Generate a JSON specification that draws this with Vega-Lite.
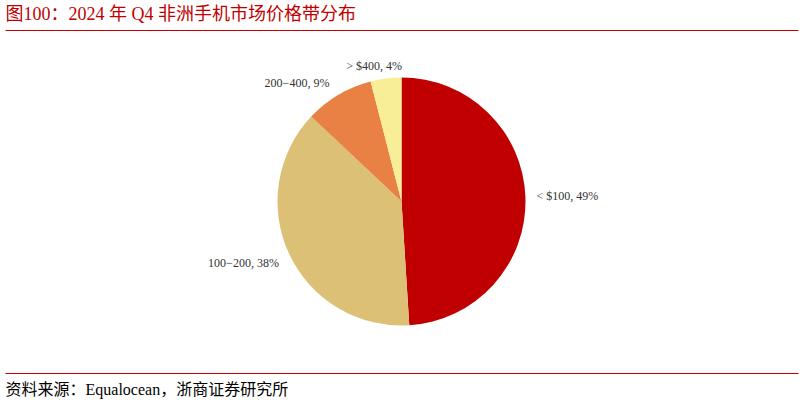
{
  "$schema": "https://vega.github.io/schema/vega-lite/v6.json",
  "description": "2024 Q4 Africa smartphone market share by price band",
  "width": 803,
  "height": 405,
  "autosize": {"type": "fit", "contains": "padding"},
  "padding": {"left": 5, "right": 5, "top": 5, "bottom": 8},
  "background": "white",
  "config": {"view": {"stroke": null}},
  "data": {
    "values": [
      {"band": "< $100", "share": 49},
      {"band": "100−200", "share": 38},
      {"band": "200−400", "share": 9},
      {"band": "> $400", "share": 4}
    ]
  },
  "transform": [
    {"window": [{"op": "row_number", "as": "idx"}]},
    {"stack": "share", "groupby": [], "sort": [{"field": "idx", "order": "ascending"}], "as": ["s0", "s1"]},
    {"calculate": "(datum.s0 + datum.s1) / 2", "as": "mid"},
    {"calculate": "datum.band + ', ' + datum.share + '%'", "as": "label"}
  ],
  "resolve": {"scale": {"x": "independent"}, "axis": {"x": "independent"}},
  "layer": [
    {
      "mark": {"type": "arc", "outerRadius": 124},
      "encoding": {
        "theta": {"field": "s0", "type": "quantitative", "scale": {"domain": [0, 100]}},
        "theta2": {"field": "s1"},
        "color": {
          "field": "band",
          "type": "nominal",
          "scale": {
            "domain": ["< $100", "100−200", "200−400", "> $400"],
            "range": ["#C00000", "#DBC076", "#EA8144", "#F9EE98"]
          },
          "legend": null
        }
      }
    },
    {
      "transform": [{"filter": "datum.band == '< $100'"}],
      "mark": {"type": "text", "radius": 166, "font": "Liberation Serif", "fontSize": 12, "color": "#333333"},
      "encoding": {
        "theta": {"field": "mid", "type": "quantitative"},
        "text": {"field": "label"}
      }
    },
    {
      "transform": [{"filter": "datum.band == '100−200'"}],
      "mark": {"type": "text", "radius": 168, "dx": -6, "dy": -10, "font": "Liberation Serif", "fontSize": 12, "color": "#333333"},
      "encoding": {
        "theta": {"field": "mid", "type": "quantitative"},
        "text": {"field": "label"}
      }
    },
    {
      "transform": [{"filter": "datum.band == '200−400'"}],
      "mark": {"type": "text", "radius": 166, "dx": -20, "dy": 24, "font": "Liberation Serif", "fontSize": 12, "color": "#333333"},
      "encoding": {
        "theta": {"field": "mid", "type": "quantitative"},
        "text": {"field": "label"}
      }
    },
    {
      "transform": [{"filter": "datum.band == '> $400'"}],
      "mark": {"type": "text", "radius": 139, "dx": -10, "dy": 2, "font": "Liberation Serif", "fontSize": 12, "color": "#333333"},
      "encoding": {
        "theta": {"field": "mid", "type": "quantitative"},
        "text": {"field": "label"}
      }
    },
    {
      "mark": {"type": "rule", "opacity": 0},
      "encoding": {
        "x": {
          "datum": 0,
          "type": "quantitative",
          "axis": {
            "orient": "top",
            "title": "图100：2024 年 Q4 非洲手机市场价格带分布",
            "titleColor": "#C00000",
            "titleFont": "Liberation Serif, Noto Sans CJK SC",
            "titleFontSize": 18,
            "titleFontWeight": "normal",
            "titleAnchor": "start",
            "titleAlign": "left",
            "titlePadding": 7,
            "domainColor": "#C00000",
            "domainWidth": 1,
            "ticks": false,
            "labels": false,
            "grid": false
          }
        }
      }
    },
    {
      "mark": {"type": "rule", "opacity": 0},
      "encoding": {
        "x": {
          "datum": 0,
          "type": "quantitative",
          "axis": {
            "orient": "bottom",
            "title": "资料来源：Equalocean，浙商证券研究所",
            "titleColor": "#000000",
            "titleFont": "Liberation Serif, Noto Sans CJK SC",
            "titleFontSize": 16,
            "titleFontWeight": "normal",
            "titleAnchor": "start",
            "titleAlign": "left",
            "titlePadding": 8,
            "domainColor": "#C00000",
            "domainWidth": 1,
            "ticks": false,
            "labels": false,
            "grid": false
          }
        }
      }
    }
  ]
}
